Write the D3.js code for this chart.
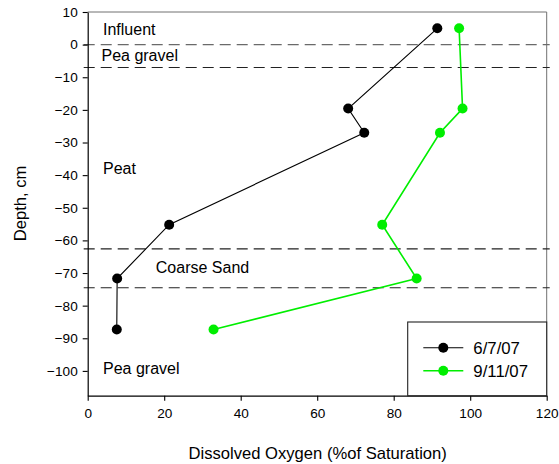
<!DOCTYPE html>
<html>
<head>
<meta charset="utf-8">
<script src="https://cdn.jsdelivr.net/npm/d3@7"></script>
<style>
  html, body { margin: 0; padding: 0; background: #fff; }
  svg { display: block; font-family: "Liberation Sans", Arial, sans-serif; }
</style>
</head>
<body>
<svg id="chart" width="559" height="464"></svg>
<script>
// Dissolved oxygen profiles through the filter bed
const depths = [5, -19.6, -27, -55.2, -71.7, -87.3];
const seriesNames = ["6/7/07", "9/11/07"];
const doJune = [91.4, 68.1, 72.3, 21.3, 7.7, 7.6];
const doSept = [97.1, 98.0, 92.1, 77.0, 86.0, 32.9];
const seriesColors = ["#000000", "#00ee00"];

// Layer boundaries (cm) and layer labels
const boundaries = [0, -7, -62.6, -74.5];
const layerNames = ["Influent", "Pea gravel", "Peat", "Coarse Sand", "Pea gravel"];
const layerDepths = [3.0, -5.0, -39.5, -70.0, -100.8];
const layerX = [4, 3.6, 4, 17.8, 4];

const xTicks = [0, 20, 40, 60, 80, 100, 120];
const yTicks = [10, 0, -10, -20, -30, -40, -50, -60, -70, -80, -90, -100];

const W = 559, H = 464;
const m = { left: 87.7, top: 12, right: 12.3, bottom: 68.3 };
const svg = d3.select("#chart");

const x = d3.scaleLinear().domain([0, 120]).range([m.left, W - m.right]);
const y = d3.scaleLinear().domain([-107.6, 10]).range([H - m.bottom, m.top]);

// plot frame (top and right edges)
svg.append("path")
  .attr("d", `M${x(0)},${y(10)}H${x(120)}V${y(-107.6)}`)
  .attr("fill", "none").attr("stroke", "#707070").attr("stroke-width", 1);

// layer boundaries
svg.selectAll("line.bound").data(boundaries).enter().append("line")
  .attr("class", "bound")
  .attr("x1", x(0) - 4).attr("x2", x(120) + 3)
  .attr("y1", d => y(d)).attr("y2", d => y(d))
  .attr("stroke", (d, i) => i === 0 ? "#6a6a6a" : "#222")
  .attr("stroke-width", 1.1)
  .attr("stroke-dasharray", "11,6");

// layer labels
svg.selectAll("text.layer").data(layerNames).enter().append("text")
  .attr("class", "layer")
  .attr("x", (d, i) => x(layerX[i]))
  .attr("y", (d, i) => y(layerDepths[i]))
  .attr("font-size", 16)
  .attr("fill", "#000")
  .text(d => d);

// axes
const xAxis = d3.axisBottom(x).tickValues(xTicks).tickSize(5).tickSizeOuter(0).tickPadding(8);
const yAxis = d3.axisLeft(y).tickValues(yTicks).tickSize(5).tickSizeOuter(0).tickPadding(5);

const gx = svg.append("g").attr("transform", `translate(0,${H - m.bottom})`).call(xAxis);
const gy = svg.append("g").attr("transform", `translate(${m.left},0)`).call(yAxis);
[gx, gy].forEach(g => {
  g.select(".domain").attr("stroke", "#000").attr("stroke-width", 1.2);
  g.selectAll(".tick line").attr("stroke", "#000").attr("stroke-width", 1.1);
  g.selectAll(".tick text").attr("font-size", 13.6).attr("fill", "#000")
    .attr("font-family", "Liberation Sans, Arial, sans-serif");
});

// axis titles
svg.append("text")
  .attr("x", (x(0) + x(120)) / 2 + 0.5).attr("y", 458.5)
  .attr("text-anchor", "middle").attr("font-size", 16.6)
  .text("Dissolved Oxygen (%of Saturation)");
svg.append("text")
  .attr("transform", `translate(26,${203.5}) rotate(-90)`)
  .attr("text-anchor", "middle").attr("font-size", 16.6)
  .text("Depth, cm");

// profiles
const series = [doJune, doSept];
const line = d3.line().x(d => x(d[0])).y(d => y(d[1]));
series.forEach((vals, si) => {
  const pts = vals.map((v, i) => [v, depths[i]]);
  svg.append("path").datum(pts)
    .attr("d", line).attr("fill", "none")
    .attr("stroke", seriesColors[si]).attr("stroke-width", si === 0 ? 1.1 : 1.6);
  svg.selectAll(null).data(pts).enter().append("circle")
    .attr("cx", d => x(d[0])).attr("cy", d => y(d[1])).attr("r", 5)
    .attr("fill", seriesColors[si]);
});

// legend
const lg = svg.append("g");
lg.append("rect")
  .attr("x", 407.7).attr("y", 322)
  .attr("width", x(120) - 407.7).attr("height", (H - m.bottom) - 322)
  .attr("fill", "#fff").attr("stroke", "#222").attr("stroke-width", 1.1);
seriesNames.forEach((name, i) => {
  const cy = 347.7 + i * 23;
  lg.append("line").attr("x1", 423.3).attr("x2", 463.3).attr("y1", cy).attr("y2", cy)
    .attr("stroke", seriesColors[i]).attr("stroke-width", i === 0 ? 1.1 : 1.6);
  lg.append("circle").attr("cx", 443.3).attr("cy", cy).attr("r", 5).attr("fill", seriesColors[i]);
  lg.append("text").attr("x", 473.3).attr("y", cy + 6).attr("font-size", 16.8).text(name);
});
</script>
</body>
</html>
